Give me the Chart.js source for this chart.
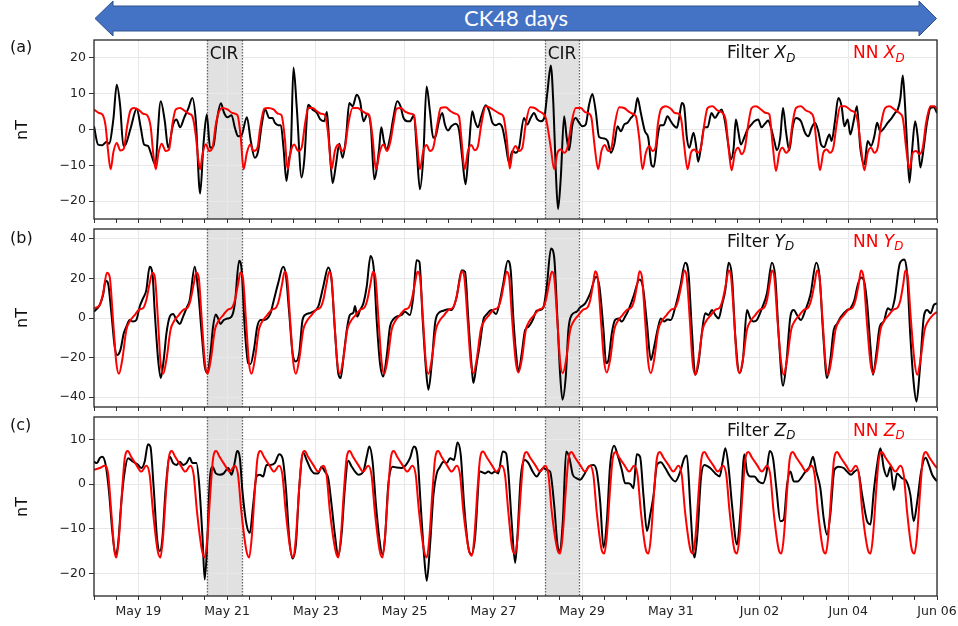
<!DOCTYPE html>
<html>
<head>
<meta charset="utf-8">
<title>CK48 days</title>
<script src="https://cdn.jsdelivr.net/npm/chart.js@4.4.1/dist/chart.umd.min.js"></script>
<style>
  body { margin: 0; background: #fff; }
  #page { position: relative; width: 958px; height: 626px; overflow: hidden; font-family: "DejaVu Sans", sans-serif; }
  canvas { position: absolute; left: 0; }
  .txt { position: absolute; line-height: 1; white-space: nowrap; }
  .tag { font-size: 16px; color: #111; left: 10px; }
  .unit { font-size: 16px; color: #111; left: 22px; transform: translate(-50%, -50%) rotate(-90deg); }
  .key { font-size: 17px; }
  .key .sub { font-size: 0.7em; font-style: italic; position: relative; top: 0.3em; }
  .cir { font-size: 17px; color: #111; transform: translateX(-50%); }
</style>
</head>
<body>
<div id="page">
  <svg width="958" height="40" style="position:absolute;left:0;top:0">
    <polygon points="95,18.5 113,1 113,6 919,6 919,1 936.5,18.5 919,36 919,31 113,31 113,36"
             fill="#4472C4" stroke="#2F528F" stroke-width="1"/>
  </svg>
  <div class="txt" style="left:95px;top:7px;width:842px;text-align:center;color:#fff;font-family:Lato, sans-serif;font-size:22px;">CK48 days</div>

  <canvas id="panelA" width="958" height="198" style="top:30px"></canvas>
  <canvas id="panelB" width="958" height="197" style="top:219px"></canvas>
  <canvas id="panelC" width="958" height="215" style="top:407px"></canvas>

  <div class="txt tag" style="top:38.5px">(a)</div>
  <div class="txt tag" style="top:230px">(b)</div>
  <div class="txt tag" style="top:417px">(c)</div>
  <div class="txt unit" style="top:129.5px">nT</div>
  <div class="txt unit" style="top:318px">nT</div>
  <div class="txt unit" style="top:506.5px">nT</div>

  <div class="txt cir" style="left:224px;top:45px">CIR</div>
  <div class="txt cir" style="left:562px;top:45px">CIR</div>

  <div class="txt key" style="left:727px;top:44px;color:#111">Filter <i>X</i><span class="sub">D</span></div>
  <div class="txt key" style="left:853px;top:44px;color:#ff0000">NN <i>X</i><span class="sub">D</span></div>
  <div class="txt key" style="left:727px;top:232.5px;color:#111">Filter <i>Y</i><span class="sub">D</span></div>
  <div class="txt key" style="left:853px;top:232.5px;color:#ff0000">NN <i>Y</i><span class="sub">D</span></div>
  <div class="txt key" style="left:727px;top:421.5px;color:#111">Filter <i>Z</i><span class="sub">D</span></div>
  <div class="txt key" style="left:853px;top:421.5px;color:#ff0000">NN <i>Z</i><span class="sub">D</span></div>
</div>

<script>
// x values are hours since May 18 00:00, y values in nT

// date ticks (every 2 days) and their labels
const hourTicks = [24, 72, 120, 168, 216, 264, 312, 360, 408, 456];
const dateLabels = ['May 19', 'May 21', 'May 23', 'May 25', 'May 27', 'May 29', 'May 31', 'Jun 02', 'Jun 04', 'Jun 06'];

// y tick values per panel
const yTicksA = [-20, -10, 0, 10, 20];
const yTicksB = [-40, -20, 0, 20, 40];
const yTicksC = [-20, -10, 0, 10];

// CIR intervals (hours)
const cirSpans = [[61.0, 80.3], [244.0, 262.4]];

// (a) X_D
const filterX = [[0,0.9],[2.2,-4.2],[4.5,-4.4],[6.9,-3.4],[8.1,-4.0],[10.5,3],[12.3,12.5],[14.1,6.9],[15.9,-4.6],[17.1,-4.2],[19.9,0.5],[23.1,5.8],[25.3,0.5],[27.1,-4.2],[29.2,-4.6],[30.7,-6.5],[33.0,-9.7],[36.1,7.9],[38.3,2.3],[40.1,-5.1],[42.8,1.4],[44.6,2.8],[46.6,0.6],[48.7,3.2],[51.1,6.0],[53.2,8.8],[55.1,2.3],[57.4,-17.9],[59.2,-4.2],[61.0,4.2],[62.8,-5.1],[64.6,-4.6],[66.4,2.3],[68.6,7.3],[70.4,4.6],[72.2,3.4],[74.4,4.0],[76.2,0.5],[78.0,-1.9],[79.8,-1.6],[82.7,3.4],[84.8,-3.2],[87.0,-7.9],[88.8,-6.0],[90.6,0.9],[92.6,5.6],[94.8,3.2],[96.6,3.2],[97.8,1.9],[99.6,1.2],[101.1,1.2],[102.5,-5.1],[104.1,-14.4],[105.6,-7.9],[106.5,-5.1],[107.9,17.3],[109.7,6.0],[112.3,-13.4],[113.7,-8.8],[115.9,6.9],[118.2,5.6],[120.6,4.6],[122.4,2.8],[124.5,2.3],[126.0,4.9],[127.3,-4.2],[129.1,-15.0],[130.9,-9.7],[132.7,-4.0],[134.5,-7.9],[136.3,-2.3],[138.1,7.4],[139.9,6.5],[142.1,9.7],[143.9,7.9],[145.8,2.3],[148.0,4.4],[149.8,0.5],[151.6,-13.9],[154.1,-6.0],[155.4,0.6],[156.8,-3.2],[158.3,-5.6],[160.1,-2.3],[161.9,3.2],[164.0,7.9],[165.8,6.5],[167.3,3.4],[169.5,2.3],[170.9,2.3],[173.1,4.0],[174.5,-5.1],[176.3,-16.7],[178.1,-7.9],[179.9,12.0],[181.7,5.1],[183.5,-2.3],[184.8,-1.9],[186.6,2.3],[188.4,4.6],[189.8,1.4],[191.5,-0.3],[193.3,0.9],[195.6,1.6],[197.4,0],[199.2,-7.9],[201.0,-15.3],[202.8,-5.1],[204.6,5.1],[206.1,2.3],[207.7,0.6],[209.5,3.7],[211.9,6.8],[213.7,5.3],[215.5,1.9],[217.3,1.2],[219.1,1.6],[220.9,0.5],[222.7,-4.2],[224.5,-9.3],[226.3,-6.0],[228.1,-6.5],[229.9,-5.1],[232.6,3.2],[234.4,1.4],[236.2,3.2],[238.0,4.6],[239.8,2.8],[241.6,2.3],[243.5,3.2],[245.3,10.6],[247.1,17.9],[248.5,6.9],[249.8,-11.6],[251.0,-22.2],[252.5,-13.4],[254.3,3.7],[255.7,-2.3],[257.0,-5.8],[258.8,1.4],[260.6,3.2],[262.4,1.9],[264.2,0.9],[266.0,1.4],[267.8,6.9],[269.6,9.9],[271.4,5.1],[273.2,-2.1],[275.9,-2.5],[277.8,-3.2],[279.6,-6.5],[281.4,-4.2],[283.2,0.9],[285.0,-0.5],[286.8,1.4],[288.6,1.9],[290.4,3.2],[292.6,4.9],[294.0,8.8],[295.8,4.6],[298.0,-0.5],[299.8,-2.3],[301.6,-10.0],[302.8,-10.4],[304.8,-2.3],[306.2,1.2],[308.1,1.2],[310.2,3.7],[312.0,2.3],[313.5,1.2],[315.3,0.5],[316.5,3.2],[318.0,7.4],[319.2,6.5],[320.7,-2.3],[322.0,-5.1],[324.3,-0.9],[325.6,-4.2],[326.8,-9.0],[328.3,-5.1],[330.1,0.6],[331.9,0.6],[334.0,4.6],[335.9,3.2],[337.7,4.6],[339.5,5.6],[341.3,2.3],[343.1,-4.2],[344.5,-8.3],[346.0,-5.1],[347.2,2.8],[348.5,-0.5],[349.9,-4.2],[351.7,-2.3],[353.5,0],[355.3,1.2],[357.2,2.3],[359.3,2.8],[361.1,0.6],[362.9,1.6],[364.7,2.5],[366.2,0.5],[368.0,-3.2],[369.4,-5.8],[371.2,-2.3],[372.7,6.0],[374.3,-0.5],[376.1,-5.8],[377.9,0.6],[379.7,3.2],[382.4,2.3],[384.6,-0.9],[386.4,-1.9],[388.2,0.5],[390.0,1.9],[391.8,-0.5],[393.3,-4.2],[395.1,-4.9],[396.5,-2.8],[397.8,-1.4],[399.0,-3.2],[400.8,2.3],[402.6,8.8],[404.4,6.5],[405.9,0.9],[407.7,2.8],[409.1,-1.4],[410.9,2.3],[412.7,6.5],[414.5,-5.1],[416.7,-9.7],[418.5,-3.2],[420.3,-4.6],[422.1,-1.9],[423.6,1.9],[425.4,-0.6],[427.2,0.3],[429.4,1.9],[431.5,3.2],[433.3,4.6],[434.8,5.6],[436.2,8.8],[437.5,15.1],[438.7,6.9],[439.8,-4.2],[441.1,-14.8],[442.5,-6.0],[444.2,2.3],[445.6,-2.3],[447.0,-10.6],[448.8,-5.1],[450.6,1.9],[452.5,6.0],[454.3,6.2],[456,4.6]];

const nnX = [[0,5.6],[2.7,4.6],[4.5,4.2],[6.3,0.9],[7.6,-6.0],
  [9.0,-11.1],[10.5,-6.3],[12.3,-3.8],[14.3,-5.9],[16.1,-5.4],[17.9,0.8],[19.7,5.3],[21.6,6.0],[24.2,5.5],[26.6,4.4],[28.5,4.1],[30.7,0.6],[32.0,-6.5],
  [33.4,-11.1],[34.9,-6.5],[36.6,-4.0],[38.8,-6.0],[40.6,-5.6],[42.4,1.4],[44.2,5.6],[46.6,6.0],[49.1,5.2],[51.4,4.4],[53.2,3.7],[55.0,-1.4],[56.3,-7.9],
  [57.4,-11.1],[58.7,-6.9],[60.5,-4.1],[62.3,-6.0],[64.1,-5.1],[65.9,1.4],[67.7,5.1],[69.5,6.0],[72.2,5.6],[74.9,4.6],[77.6,4.0],[79.4,-2.3],
  [80.9,-11.1],[82.7,-6.5],[84.5,-4.2],[86.3,-6.0],[88.4,-5.1],[89.9,0.5],[92.1,5.8],[94.2,6.0],[97.1,5.6],[99.6,4.4],[101.4,4.0],[103.2,-2.3],
  [104.7,-11.1],[106.5,-6.0],[108.3,-4.2],[110.5,-6.0],[112.3,-5.1],[114.1,1.4],[115.9,6.0],[118.2,6.0],[120.6,5.1],[122.7,4.4],[124.9,4.0],[126.7,-1.4],
  [128.5,-11.1],[130.3,-6.0],[132.1,-4.2],[133.9,-6.0],[135.7,-5.1],[137.5,1.4],[139.9,6.0],[142.6,6.0],[145.3,5.1],[147.6,4.4],[148.9,4.0],[150.7,-2.3],
  [152.5,-11.1],[154.7,-6.0],[156.5,-4.2],[158.6,-6.0],[160.4,-3.2],[161.9,1.4],[163.7,5.8],[165.8,6.0],[168.5,4.9],[171.3,4.4],[173.1,4.0],[174.5,-2.3],
  [176.3,-11.1],[178.1,-6.0],[179.9,-4.3],[181.7,-6.0],[183.5,-5.1],[185.7,1.4],[187.5,6.0],[190.2,6.2],[192.9,5.1],[195.6,4.4],[197.4,3.7],[198.7,-2.3],
  [200.5,-11.1],[202.3,-6.0],[204.1,-4.3],[205.9,-5.8],[207.7,-4.6],[209.5,1.4],[211.9,6.5],[214.6,6.0],[217.3,5.1],[219.6,4.4],[221.4,3.7],[223.2,-2.3],
  [224.9,-10.9],[226.3,-6.5],[228.1,-4.6],[229.9,-6.0],[231.7,-5.1],[233.5,1.4],[235.9,6.2],[238.4,6.0],[240.7,5.1],[242.5,4.6],[244.4,3.2],[247.1,-5.1],
  [248.9,-11.1],[250.7,-6.5],[252.5,-5.6],[254.3,-6.5],[256.1,-5.1],[258.3,1.9],[260.6,6.0],[263.3,6.0],[265.5,4.9],[267.8,4.4],[269.1,3.2],[270.9,-5.1],
  [272.7,-11.1],[274.5,-6.0],[276.3,-4.3],[278.1,-6.0],[279.9,-5.1],[281.7,1.4],[284.1,6.2],[286.8,6.0],[289.5,4.9],[291.3,4.4],[293.1,3.7],[294.9,-2.3],
  [296.7,-11.1],[298.5,-6.5],[300.3,-4.6],[302.1,-6.0],[303.7,-5.1],[305.0,1.4],[306.6,5.6],[309.3,6.5],[312.0,5.8],[314.2,4.6],[316.5,4.4],[317.8,2.3],[319.2,-4.2],
  [321.1,-11.1],[322.9,-6.5],[324.7,-5.6],[326.5,-6.5],[328.3,-5.1],[330.1,1.4],[331.9,6.0],[334.6,6.5],[337.3,5.3],[340.0,4.6],[341.8,2.3],[343.1,-4.2],
  [344.9,-11.4],[346.7,-6.5],[348.5,-5.1],[350.3,-6.9],[352.1,-5.1],[353.9,1.4],[355.7,6.0],[358.1,6.5],[360.8,5.6],[363.5,4.6],[365.3,4.2],[367.1,-4.2],
  [368.9,-11.6],[370.7,-6.5],[372.5,-5.1],[374.3,-6.5],[376.1,-5.1],[377.9,1.9],[379.7,6.0],[382.4,6.5],[385.1,5.3],[387.8,4.6],[389.3,3.2],[391.1,-5.1],
  [392.7,-11.4],[394.5,-6.5],[396.3,-5.6],[398.1,-6.5],[399.9,-5.1],[401.7,1.4],[403.7,6.5],[406.2,6.5],[409.5,5.3],[411.7,4.6],[413.1,2.3],[414.9,-5.1],
  [416.7,-11.4],[418.5,-6.5],[420.3,-5.1],[422.1,-6.5],[423.9,-5.1],[425.7,1.4],[427.9,6.0],[430.3,6.5],[433.0,5.6],[435.7,4.6],[437.5,3.2],[439.3,-5.1],
  [441.1,-11.1],[442.9,-6.5],[444.7,-6.0],[446.5,-6.9],[448.3,-5.1],[450.1,1.9],[452.5,6.5],[454.6,6.5],[456,5.6]];

// (b) Y_D
const filterY = [[0,3.2],[3.1,6.6],[4.9,11.6],[6.3,18.8],[7.6,17.5],[9.4,2.4],[11.2,-14.5],[12.5,-18.7],[14.3,-16.1],[16.1,-7.7],[17.5,-4.4],[19.3,-1.0],[21.1,-1.8],[22.9,-1.0],[24.7,5.7],[26.5,9.9],[28.3,14.1],[30.1,25.9],[31.6,22.5],[32.9,2.4],[34.7,-21.2],[36.1,-30.4],[37.7,-21.2],[39.2,-7.7],[41.0,0.7],[42.8,2.0],[44.6,-1.0],[46.4,-3.0],[48.2,0.7],[50.0,4.9],[51.8,9.1],[54.5,25.9],[56.3,14.1],[58.1,-6.1],[59.9,-24.5],[61.4,-27.9],[63.0,-17.8],[64.4,-4.4],[65.9,1.8],[67.1,-0.2],[68.4,-3.0],[70.2,-1.0],[72.0,-0.3],[74.4,0.7],[76.2,7.4],[78.5,28.9],[79.8,25.0],[81.6,-6.1],[83.4,-22.9],[84.7,-23.2],[86.5,-16.1],[88.3,-4.4],[90.1,-1.0],[91.9,-1.0],[93.7,-0.3],[95.5,2.4],[97.3,9.1],[99.6,17.5],[102.3,25.9],[103.8,21.7],[105.6,2.4],[107.4,-17.8],[109.2,-22.0],[111.0,-17.8],[112.8,-1.0],[114.6,1.8],[116.4,2.4],[118.6,3.2],[121.3,5.7],[124.0,15.8],[126.7,25.5],[128.5,19.2],[130.3,-6.1],[132.1,-27.9],[133.4,-30.4],[135.2,-17.8],[137.0,-4.4],[138.4,1.5],[140.3,2.7],[141.2,6.1],[142.4,0.7],[143.9,4.0],[145.7,7.4],[147.5,15.8],[149.6,31.3],[151.4,24.2],[152.9,-1.0],[154.7,-22.9],[156.5,-29.6],[158.3,-19.5],[160.1,-4.4],[161.9,-0.7],[163.7,0.7],[166.4,1.5],[168.2,3.2],[170.9,1.5],[172.7,10.8],[174.5,29.2],[176.0,28.4],[177.8,-1.0],[179.6,-26.2],[180.9,-36.3],[182.7,-22.9],[184.5,-2.7],[186.3,2.4],[189.0,3.7],[191.7,4.4],[193.5,4.0],[196.2,10.8],[198.9,24.2],[200.7,23.4],[202.5,-1.0],[204.3,-24.5],[205.2,-32.9],[207.0,-22.9],
  [208.8,-12.8],[210.6,-1.0],[212.4,1.8],[215.1,4.0],[217.5,2.0],[219.3,7.4],[221.4,17.5],[223.8,28.9],[225.4,24.2],[226.9,-1.0],[228.3,-17.8],[229.6,-27.1],[231.4,-17.8],[233.2,-6.1],[235.0,-4.4],[237.3,-1.0],[239.5,3.7],[241.3,4.0],[243.1,5.4],[244.9,15.8],[247.2,35.1],[248.9,30.9],[250.7,-1.0],[252.1,-27.9],[253.4,-41.3],[255.2,-29.6],[256.6,-6.1],[258.4,1.5],[261.1,3.2],[263.0,5.4],[265.7,7.4],[268.4,12.4],[271.6,20.8],[273.4,15.8],[275.6,-6.1],[277.0,-22.9],[278.3,-21.2],[280.1,-7.7],[281.9,-1.0],[283.7,-0.3],[285.5,-1.8],[287.3,0.7],[289.1,4.0],[291.8,10.8],[295.1,19.5],[296.9,15.8],[299.1,-2.7],[301.2,-21.2],[303.0,-14.5],[304.8,-6.1],[306.6,-0.2],[308.4,-1.8],[310.2,-0.7],[312.0,-1.0],[314.4,5.4],[317.1,15.8],[319.8,27.9],[321.6,22.5],[323.4,-6.1],[325.2,-28.7],[327.0,-22.9],[328.8,-7.7],[330.6,2.4],[332.4,1.5],[334.3,4.0],[336.1,1.5],[337.9,-0.2],[339.7,6.6],[341.5,14.1],[343.3,27.9],[345.1,20.8],[346.9,-9.4],[349.2,-27.9],[351.0,-21.2],[353.2,4.0],[355.0,-0.2],[356.8,-1.8],[358.6,-1.0],[361.3,4.9],[364.0,12.4],[366.7,27.9],[368.5,20.8],[370.4,-9.4],[372.7,-34.3],[374.5,-22.9],[376.7,0.7],[378.5,4.0],[380.3,1.5],[382.4,-1.0],[384.8,4.0],[387.5,11.6],[390.7,27.9],[392.5,20.8],[394.4,-7.7],[396.5,-30.4],[398.3,-21.2],[400.1,-6.1],[401.9,-3.0],[404.1,0.7],[407.4,4.0],[409.2,4.9],[411.3,9.1],[413.1,16.6],[414.9,20.5],[416.4,19.2],[418.2,7.4],[420.0,-14.5],[421.4,-28.7],[423.2,-17.8],[425.0,-4.4],[427.2,-1.8],[429.4,4.9],[431.2,4.0],[433.0,9.1],[435.9,27.6],[438.4,29.6],[439.8,22.5],[441.6,-9.4],[443.4,-32.9],[444.9,-42.2],[446.7,-26.2],[448.9,0.7],[450.7,4.0],[452.5,2.4],[454.3,6.6],[456,7.4]];

const nnY = [[0,4.9],[3.1,6.6],[4.9,12.4],[7.0,22.9],[8.5,20.8],[10.3,-1.0],[12.1,-22.9],
  [13.5,-28.2],[15.3,-21.0],[17.5,-6.0],[19.3,-1.8],[22.0,1.5],[24.7,4.4],[26.5,4.9],[28.3,9.1],[30.1,17.5],[31.6,22.9],[32.9,20.8],[34.6,-1.0],[36.0,-22.5],
  [37.4,-28.2],[39.2,-21.0],[41.4,-6.0],[43.2,-1.8],[45.9,1.5],[48.6,4.4],[50.4,5.0],[52.2,9.0],[54.0,17.5],[55.3,23.0],[56.6,20.8],[58.3,-1.0],[60.0,-22.5],
  [61.4,-28.2],[63.2,-21.0],[65.4,-6.0],[67.2,-1.8],[69.9,1.5],[72.6,4.4],[74.4,5.0],[76.2,9.0],[78.0,17.5],[79.2,23.0],[80.5,20.8],[82.2,-1.0],[83.8,-22.5],
  [85.2,-28.2],[87.0,-21.0],[89.2,-6.0],[91.0,-1.8],[93.7,1.5],[96.4,4.4],[98.2,5.0],[100.0,9.0],[101.8,17.5],[103.1,23.4],[104.4,20.8],[106.1,-1.0],[107.8,-22.5],
  [109.2,-28.2],[111.0,-21.0],[113.2,-6.0],[115.0,-1.8],[117.7,1.5],[120.4,4.4],[122.2,5.0],[124.0,9.0],[125.8,17.5],[127.2,23.4],[128.4,20.8],[130.0,-1.0],[131.6,-22.5],
  [133.0,-28.2],[134.8,-21.0],[137.0,-6.0],[138.8,-1.8],[141.5,1.5],[144.2,4.4],[146.0,5.0],[147.8,9.0],[149.6,17.5],[150.9,23.4],[152.2,20.8],[153.9,-1.0],[155.6,-22.5],
  [157.0,-28.2],[158.8,-21.0],[161.0,-6.0],[162.8,-1.8],[165.5,1.5],[168.2,4.4],[170.0,5.0],[171.8,9.0],[173.6,17.5],[175.0,23.4],[176.3,20.8],[178.0,-1.0],[179.5,-22.5],
  [180.9,-28.2],[182.7,-21.0],[184.9,-6.0],[186.7,-1.8],[189.4,1.5],[192.1,4.4],[193.9,5.0],[195.7,9.0],[197.5,17.5],[199.0,23.7],[200.3,20.8],[202.1,-1.0],[203.8,-22.5],
  [205.2,-27.9],[207.0,-21.0],[209.2,-6.0],[211.0,-1.8],[213.7,1.5],[216.4,4.4],[218.2,5.0],[220.0,9.0],[221.8,17.5],[223.2,23.4],[224.5,20.8],[226.2,-1.0],[228.2,-22.5],
  [229.6,-27.5],[231.4,-21.0],[233.6,-6.0],[235.4,-1.8],[238.1,1.5],[240.8,4.4],[242.6,5.0],[244.4,9.0],[246.2,17.5],[247.6,23.4],[248.9,20.8],[250.6,-1.0],[252.2,-22.5],
  [253.6,-27.9],[255.4,-21.0],[257.6,-6.0],[259.4,-1.8],[262.1,1.5],[264.8,4.4],[266.6,5.0],[268.4,9.0],[270.0,17.5],[271.1,23.7],[272.4,20.8],[274.2,-1.0],[276.0,-22.5],
  [277.4,-27.5],[279.2,-21.0],[281.4,-6.0],[283.2,-1.8],[285.9,1.5],[288.6,4.4],[290.4,5.0],[292.2,9.0],[293.9,17.5],[295.1,23.7],[296.4,20.8],[298.1,-1.0],[299.8,-22.5],
  [301.2,-27.9],[303.0,-21.0],[305.2,-6.0],[307.0,-1.8],[309.7,1.5],[312.4,4.4],[314.2,5.0],[316.0,9.0],[317.9,17.5],[319.3,24.0],[320.6,20.8],[322.3,-1.0],[323.8,-22.5],
  [325.2,-28.7],[327.0,-21.0],[329.2,-6.0],[331.0,-1.8],[333.7,1.5],[336.4,4.4],[338.2,5.0],[340.0,9.0],[341.9,17.5],[343.3,24.0],[344.6,20.8],[346.3,-1.0],[347.8,-22.5],
  [349.2,-27.9],[351.0,-21.0],[353.2,-6.0],[355.0,-1.8],[357.7,1.5],[360.4,4.4],[362.2,5.0],[364.0,9.0],[365.5,17.5],[366.7,24.0],[368.0,20.8],[369.7,-1.0],[371.7,-22.5],
  [373.1,-28.7],[374.9,-21.0],[377.1,-6.0],[378.9,-1.8],[381.6,1.5],[384.3,4.4],[386.1,5.0],[387.9,9.0],[389.8,17.5],[391.1,24.0],[392.4,20.8],[394.1,-1.0],[395.7,-22.5],
  [397.1,-28.7],[398.9,-21.0],[401.1,-6.0],[402.9,-1.8],[405.6,1.5],[408.3,4.4],[410.1,5.0],[411.9,9.0],[413.7,17.5],[414.9,24.0],[416.2,20.8],[418.0,-1.0],[420.0,-22.5],
  [421.4,-27.9],[423.2,-21.0],[425.4,-6.0],[427.2,-1.8],[429.9,1.5],[432.6,4.4],[434.4,5.0],[436.2,9.0],[437.8,17.5],[438.9,24.0],[440.2,20.8],[441.9,-1.0],[443.9,-22.5],
  [445.3,-28.7],[447.1,-21.0],[449.3,-6.0],[451.1,-1.8],[453.8,1.5],[456,3.0]];

// (c) Z_D
const filterZ = [[0,5.0],[1.6,4.7],[3.1,5.8],[4.5,6.1],[6.3,4.3],[8.1,-1.6],[9.9,-10.5],[11.6,-15.7],[13.0,-13.5],[14.8,-3.9],[16.6,2.8],[18.4,5.8],[21.1,5.0],[23.8,4.3],[25.6,3.6],[27.4,5.0],[29.2,8.9],[30.5,8.4],[32.3,-0.9],[34.1,-12.1],[35.6,-15.0],[37.0,-12.1],[38.8,-0.9],[41.0,6.1],[42.8,4.7],[44.6,4.3],[46.4,5.0],[48.2,4.3],[50.0,4.7],[51.8,5.9],[53.2,4.7],[55.4,4.7],[56.9,-0.1],[58.7,-12.0],[59.9,-21.3],[61.2,-13.5],[62.6,0.6],[64.1,3.9],[65.9,2.4],[68.1,2.1],[70.2,2.4],[72.6,3.6],[74.4,2.1],[76.2,5.0],[77.4,7.4],[78.9,5.8],[80.3,-1.6],[82.5,-9.0],[84.3,-10.9],[86.1,-4.6],[87.9,1.7],[89.7,2.1],[91.5,1.7],[93.3,4.3],[95.5,4.3],[97.8,4.7],[100.2,6.7],[102.0,5.8],[103.8,-0.9],[105.6,-12.0],[107.4,-16.6],[109.2,-13.5],[111.0,-0.9],[113.2,7.0],[115.0,5.4],[117.7,3.0],[119.5,2.4],[121.3,2.4],[123.1,3.9],[124.9,2.8],[126.7,1.3],[128.5,-4.6],[130.3,-11.3],[132.1,-16.1],[133.9,-11.3],[135.7,-0.9],[137.5,5.2],[139.4,3.9],[141.2,2.8],[143.0,2.1],[145.7,2.8],[147.5,6.1],[148.9,8.4],[150.7,5.0],[152.5,-4.6],[154.3,-12.0],[156.0,-15.7],[157.4,-12.0],[159.2,-0.1],[161.6,3.9],[163.7,3.7],[166.4,3.6],[168.8,4.3],[170.9,5.8],[173.1,8.4],[174.9,6.5],[176.7,-4.6],[178.5,-15.7],[180.0,-21.6],[181.8,-13.5],[183.6,-2.4],[185.4,2.4],[187.2,3.9],[189.0,5.0],[190.8,4.7],[192.6,5.8],[194.8,5.4],[196.6,9.3],[198.4,6.5],[200.2,-4.6],[202.5,-14.2],[204.3,-15.7],[206.1,-12.0],
  [208.8,2.8],[211.5,2.4],[213.3,2.8],[215.1,2.4],[216.9,2.8],[218.7,2.4],[221.1,7.3],[222.9,6.9],[224.1,2.8],[225.9,-8.3],[227.8,-17.6],[229.0,-12.0],[230.8,1.3],[233.2,5.4],[235.0,4.7],[237.3,2.8],[239.5,1.7],[241.3,2.8],[243.1,3.6],[244.9,3.2],[246.7,2.8],[248.9,-4.6],[250.7,-13.5],[251.8,-15.0],[253.6,-8.3],[255.4,7.3],[257.2,5.8],[259.0,2.1],[261.1,1.3],[263.0,1.0],[265.1,2.1],[267.5,3.9],[270.2,4.3],[272.0,2.8],[273.8,-3.9],[275.6,-14.2],[277.4,-8.3],[279.2,4.3],[281.4,8.6],[283.2,6.5],[285.5,3.2],[287.3,0.2],[289.1,0.2],[290.4,-0.1],[291.8,-0.9],[293.6,6.7],[295.4,6.1],[297.2,-2.4],[299.1,-10.5],[300.9,-6.8],[302.7,-2.4],[304.5,4.3],[306.6,4.9],[309.0,3.6],[311.7,1.7],[314.4,0.6],[317.1,2.8],[319.3,5.8],[320.7,6.4],[322.5,-4.6],[324.0,-14.6],[324.9,-16.4],[326.5,-10.5],[328.3,1.3],[330.1,4.3],[333.3,3.6],[336.1,2.4],[338.4,1.7],[340.2,5.4],[341.5,8.0],[343.3,3.6],[345.1,-4.6],[347.8,-13.5],[349.6,-6.8],[351.8,6.7],[353.2,2.8],[355.0,1.7],[357.2,1.7],[359.5,0.6],[361.9,0.2],[363.7,2.4],[365.5,7.4],[367.3,5.8],[369.1,-0.9],[371.3,-8.3],[373.1,-7.9],[374.9,-0.1],[376.7,2.8],[378.5,0.6],[380.6,0.6],[383.0,1.7],[384.8,2.8],[387.1,3.9],[388.9,6.1],[390.7,2.8],[392.9,-0.9],[394.7,-7.6],[396.5,-11.3],[398.3,-6.8],[400.5,3.2],[402.8,3.9],[405.5,3.6],[407.4,2.8],[409.5,2.1],[411.3,2.8],[413.1,3.2],[415.5,-2.4],[418.2,-8.3],[420.0,-9.0],[421.8,-1.6],[423.6,4.3],[425.4,8.0],[427.2,3.6],[429.0,1.7],[430.8,3.9],[432.6,-1.3],[434.4,2.4],[437.1,1.3],[438.9,1.0],[441.6,-2.4],[443.4,-8.3],[445.3,-3.9],[447.4,2.8],[449.8,5.9],[451.6,4.3],[453.4,2.1],[456,0.6]];

const nnZ = [[0,3.2],[3.1,3.6],[5.8,4.1],[7.6,2.4],[9.4,-6.5],[11.0,-14.8],
  [12.1,-16.4],[13.4,-12.5],[15.3,-0.9],[16.6,5.7],[18.3,7.4],[20.1,6.1],[22.9,4.3],[25.6,2.8],[28.3,4.1],[30.1,2.1],[31.9,-6.1],[34.4,-14.8],
  [35.9,-16.4],[37.2,-12.5],[39.1,-0.9],[40.4,5.7],[42.1,7.4],[43.9,6.1],[46.7,4.3],[49.4,2.8],[52.1,4.1],[53.9,2.1],[55.7,-6.1],[58.4,-14.8],
  [59.9,-16.4],[61.2,-12.5],[63.1,-0.9],[64.4,5.7],[66.1,7.4],[67.9,6.1],[70.7,4.3],[73.4,2.8],[76.1,4.1],[77.9,2.1],[79.7,-6.1],[82.4,-14.8],
  [83.9,-16.4],[85.2,-12.5],[87.1,-0.9],[88.4,5.7],[90.1,7.4],[91.9,6.1],[94.7,4.3],[97.4,2.8],[100.1,4.1],[101.9,2.1],[103.7,-6.1],[106.3,-14.8],
  [107.8,-16.4],[109.1,-12.5],[111.0,-0.9],[112.3,5.7],[114.0,7.4],[115.8,6.1],[118.6,4.3],[121.3,2.8],[124.0,4.1],[125.8,2.1],[127.6,-6.1],[130.6,-14.8],
  [132.1,-16.4],[133.4,-12.5],[135.3,-0.9],[136.6,5.7],[138.3,7.4],[140.1,6.1],[142.9,4.3],[145.6,2.8],[148.3,4.1],[150.1,2.1],[151.9,-6.1],[154.5,-14.8],
  [156.0,-16.4],[157.3,-12.5],[159.2,-0.9],[160.5,5.7],[162.2,7.4],[164.0,6.1],[166.8,4.3],[169.5,2.8],[172.2,4.1],[174.0,2.1],[175.8,-6.1],[178.5,-14.8],
  [180.0,-16.4],[181.3,-12.5],[183.2,-0.9],[184.5,5.7],[186.2,7.4],[188.0,6.1],[190.8,4.3],[193.5,2.8],[196.2,4.1],[198.0,2.1],[199.8,-6.1],[202.8,-14.8],
  [204.3,-16.0],[205.6,-12.5],[207.5,-0.9],[208.8,5.7],[210.5,7.3],[212.3,6.1],[215.1,4.3],[217.8,2.8],[220.5,4.1],[222.3,2.1],[224.1,-6.1],[226.3,-14.5],
  [227.8,-15.5],[229.1,-12.0],[231.0,-0.9],[232.3,5.5],[234.0,7.2],[235.8,6.0],[238.6,4.3],[241.3,2.8],[244.0,4.1],[245.8,2.1],[247.6,-6.1],[250.6,-14.5],
  [252.1,-15.5],[253.4,-12.0],[255.3,-0.9],[256.6,5.5],[258.3,7.2],[260.1,6.0],[262.9,4.3],[265.6,2.8],[268.3,4.1],[270.1,2.1],[271.9,-6.1],[274.5,-14.5],
  [276.0,-15.5],[277.3,-12.0],[279.2,-0.9],[280.5,5.5],[282.2,7.2],[284.0,6.0],[286.8,4.3],[289.5,2.8],[292.2,4.1],[294.0,2.1],[295.8,-6.1],[298.4,-14.5],
  [299.9,-15.5],[301.2,-12.0],[303.1,-0.9],[304.4,5.5],[306.1,7.2],[307.9,6.0],[310.7,4.3],[313.4,2.8],[316.1,4.1],[317.9,2.1],[319.7,-6.1],[322.5,-14.5],
  [324.0,-15.5],[325.3,-12.0],[327.2,-0.9],[328.5,5.5],[330.2,7.2],[332.0,6.0],[334.8,4.3],[337.5,2.8],[340.2,4.1],[342.0,2.1],[343.8,-6.1],[346.3,-14.5],
  [347.8,-15.5],[349.1,-12.0],[351.0,-0.9],[352.3,5.5],[354.0,7.2],[355.8,6.0],[358.6,4.3],[361.3,2.8],[364.0,4.1],[365.8,2.1],[367.6,-6.1],[370.3,-14.5],
  [371.8,-15.5],[373.1,-12.0],[375.0,-0.9],[376.3,5.5],[378.0,7.2],[379.8,6.0],[382.6,4.3],[385.3,2.8],[388.0,4.1],[389.8,2.1],[391.6,-6.1],[394.3,-14.5],
  [395.8,-15.5],[397.1,-12.0],[399.0,-0.9],[400.3,5.5],[402.0,7.2],[403.8,6.0],[406.6,4.3],[409.3,2.8],[412.0,4.1],[413.8,2.1],[415.6,-6.1],[418.5,-14.5],
  [420.0,-15.5],[421.3,-12.0],[423.2,-0.9],[424.5,5.5],[426.2,7.2],[428.0,6.0],[430.8,4.3],[433.5,2.8],[436.2,4.1],[438.0,2.1],[439.8,-6.1],[442.3,-14.5],
  [443.8,-15.5],[445.1,-12.0],[447.0,-0.9],[448.3,5.5],[450.0,7.2],[451.8,6.0],[454.6,4.3],[456,3.6]];

const tickFont = { family: 'DejaVu Sans', size: 12.5 };

// shaded CIR bands under the grid, dotted edges, and a full frame
const panelDecor = {
  id: 'panelDecor',
  beforeDraw(chart) {
    const { ctx, chartArea: a, scales: { x } } = chart;
    ctx.save();
    ctx.fillStyle = '#e1e1e1';
    cirSpans.forEach(([s, e]) => {
      const x0 = x.getPixelForValue(s);
      const x1 = x.getPixelForValue(e);
      ctx.fillRect(x0, a.top, x1 - x0, a.bottom - a.top);
    });
    ctx.restore();
  },
  beforeDatasetsDraw(chart) {
    const { ctx, chartArea: a, scales: { x } } = chart;
    ctx.save();
    ctx.strokeStyle = '#666';
    ctx.lineWidth = 1.3;
    ctx.setLineDash([1.5, 1.5]);
    cirSpans.forEach(span => {
      span.forEach(v => {
        const px = Math.round(x.getPixelForValue(v)) + 0.5;
        ctx.beginPath();
        ctx.moveTo(px, a.top);
        ctx.lineTo(px, a.bottom);
        ctx.stroke();
      });
    });
    ctx.restore();
  },
  afterDraw(chart) {
    const { ctx, chartArea: a } = chart;
    ctx.save();
    ctx.strokeStyle = '#262626';
    ctx.lineWidth = 1.3;
    ctx.strokeRect(a.left, a.top, a.right - a.left, a.bottom - a.top);
    ctx.restore();
  }
};

function toPoints(pairs) {
  return pairs.map(([x, y]) => ({ x: x, y: y }));
}

function makePanel(id, black, red, yMin, yMax, yTicks, showDates, bottomH, bottomPad) {
  const ctx = document.getElementById(id).getContext('2d');
  return new Chart(ctx, {
    type: 'line',
    data: {
      datasets: [
        { data: toPoints(black), borderColor: '#000', borderWidth: 2, order: 1 },
        { data: toPoints(red), borderColor: '#ff0000', borderWidth: 2, order: 0 }
      ]
    },
    options: {
      responsive: false,
      animation: false,
      layout: { padding: { top: 10, right: 21, bottom: bottomPad, left: 0 } },
      elements: {
        point: { radius: 0 },
        line: { cubicInterpolationMode: 'monotone', fill: false }
      },
      plugins: { legend: { display: false }, tooltip: { enabled: false } },
      scales: {
        x: {
          type: 'linear',
          min: 0,
          max: 456,
          // fixed height, and no extra side room for the last date label
          afterFit: s => {
            s.height = bottomH;
            s.paddingLeft = 0;
            s.paddingRight = 0;
          },
          border: { display: false },
          grid: {
            color: c => (c.tick && hourTicks.includes(c.tick.value)) ? '#e8e8e8' : 'rgba(0,0,0,0)',
            tickColor: '#333',
            tickLength: 4
          },
          ticks: {
            stepSize: 12,
            autoSkip: false,
            maxRotation: 0,
            maxTicksLimit: 100,
            display: showDates,
            color: '#222',
            padding: 4,
            font: tickFont,
            callback: v => {
              const i = hourTicks.indexOf(v);
              return i >= 0 ? dateLabels[i] : '';
            }
          }
        },
        y: {
          min: yMin,
          max: yMax,
          afterFit: s => {
            s.width = 94;
            s.paddingTop = 0;
            s.paddingBottom = 0;
          },
          afterBuildTicks: s => { s.ticks = yTicks.map(v => ({ value: v })); },
          border: { display: false },
          grid: { color: '#e8e8e8', tickColor: '#333', tickLength: 5 },
          ticks: {
            color: '#222',
            padding: 3,
            font: tickFont,
            callback: v => (v < 0 ? '\u2212' + (-v) : String(v))
          }
        }
      }
    },
    plugins: [panelDecor]
  });
}

makePanel('panelA', filterX, nnX, -25, 25, yTicksA, false, 5, 4);
makePanel('panelB', filterY, nnY, -45, 45, yTicksB, false, 5, 4);
makePanel('panelC', filterZ, nnZ, -25, 15, yTicksC, true, 24, 2);
</script>
</body>
</html>
